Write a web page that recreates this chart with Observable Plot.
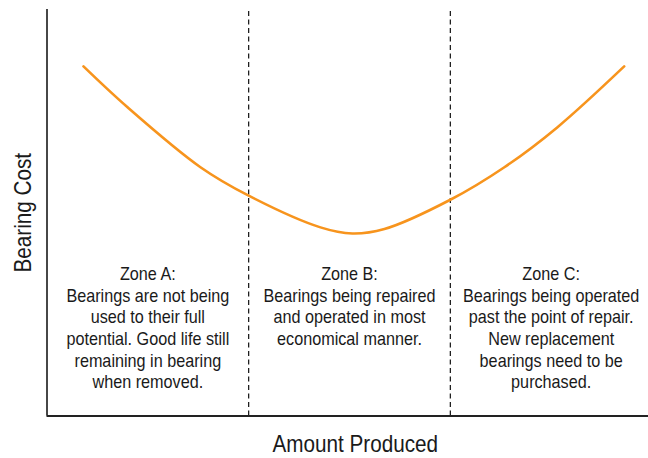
<!DOCTYPE html>
<html>
<head>
<meta charset="utf-8">
<script src="https://cdn.jsdelivr.net/npm/d3@7"></script>
<script src="https://cdn.jsdelivr.net/npm/@observablehq/plot@0.6"></script>
<style>
  html, body { margin: 0; padding: 0; background: #fff; }
  #chart svg { display: block; }
</style>
</head>
<body>
<div id="chart"></div>
<script>
// Curve: amount produced (0–300, 100 per zone) vs bearing cost (0–100)
const amount = [18.1, 39.8, 76.1, 100.0, 135.6, 151.4, 167.3, 200.0, 226.8, 253.0, 286.2];
const cost   = [86.0, 76.0, 61.2, 54.2, 46.4, 44.9, 46.0, 53.2, 61.2, 71.0, 86.0];

// Zone boundaries and zone descriptions
const zoneBoundaries = [100, 200];
const zoneCenters = [50, 150, 250];
const zoneTexts = [
  "Zone A:\nBearings are not being\nused to their full\npotential. Good life still\nremaining in bearing\nwhen removed.",
  "Zone B:\nBearings being repaired\nand operated in most\neconomical manner.",
  "Zone C:\nBearings being operated\npast the point of repair.\nNew replacement\nbearings need to be\npurchased."
];
const zoneTextTop = 37.2;

const xLabel = "Amount Produced";
const yLabel = "Bearing Cost";

const curveData = amount.map((a, i) => ({amount: a, cost: cost[i]}));
const zones = zoneTexts.map((t, i) => ({x: zoneCenters[i], y: zoneTextTop, text: t}));

const font = "'Liberation Sans Narrow', 'Arial Narrow', 'Liberation Sans', Arial, sans-serif";

const chart = Plot.plot({
  width: 648,
  height: 458,
  marginLeft: 46.5,
  marginRight: -3.5,
  marginTop: 9,
  marginBottom: 42.5,
  x: {domain: [0, 300], axis: null},
  y: {domain: [0, 100], axis: null},
  style: {fontFamily: font, background: "#fff", overflow: "visible"},
  marks: [
    Plot.ruleX(zoneBoundaries, {y1: 0, y2: 100.3, stroke: "#111", strokeWidth: 1.2, strokeDasharray: "5,3.5"}),
    Plot.ruleX([0], {y1: 0, y2: 100, stroke: "#333", strokeWidth: 1.8}),
    Plot.ruleY([0], {x1: 0, x2: 300, stroke: "#222", strokeWidth: 1.8}),
    Plot.line(curveData, {x: "amount", y: "cost", curve: "catmull-rom", stroke: "#F7941D", strokeWidth: 2.6}),
    Plot.text(zones, {x: "x", y: "y", text: "text", lineAnchor: "top", textAnchor: "middle",
      fontSize: 18, lineHeight: 1.2, fill: "#1a1a1a"}),
    Plot.text([xLabel], {frameAnchor: "bottom", textAnchor: "middle", dx: 5.7, dy: 29, lineAnchor: "middle",
      fontSize: 23, fill: "#1a1a1a"}),
    Plot.text([yLabel], {frameAnchor: "left", textAnchor: "middle", rotate: -90, dx: -23.2, lineAnchor: "middle",
      fontSize: 23, fill: "#1a1a1a"})
  ]
});

// Condense the text horizontally (no narrow font is installed)
const condense = 0.9;
d3.select(chart).selectAll("text").each(function () {
  const t = this.getAttribute("transform");
  if (t) {
    this.setAttribute("transform", t + ` scale(${condense},1)`);
  } else {
    const x = +this.getAttribute("x") || 0, y = +this.getAttribute("y") || 0;
    this.removeAttribute("x"); this.removeAttribute("y");
    this.setAttribute("transform", `translate(${x},${y}) scale(${condense},1)`);
  }
});

document.getElementById("chart").appendChild(chart);
</script>
</body>
</html>
